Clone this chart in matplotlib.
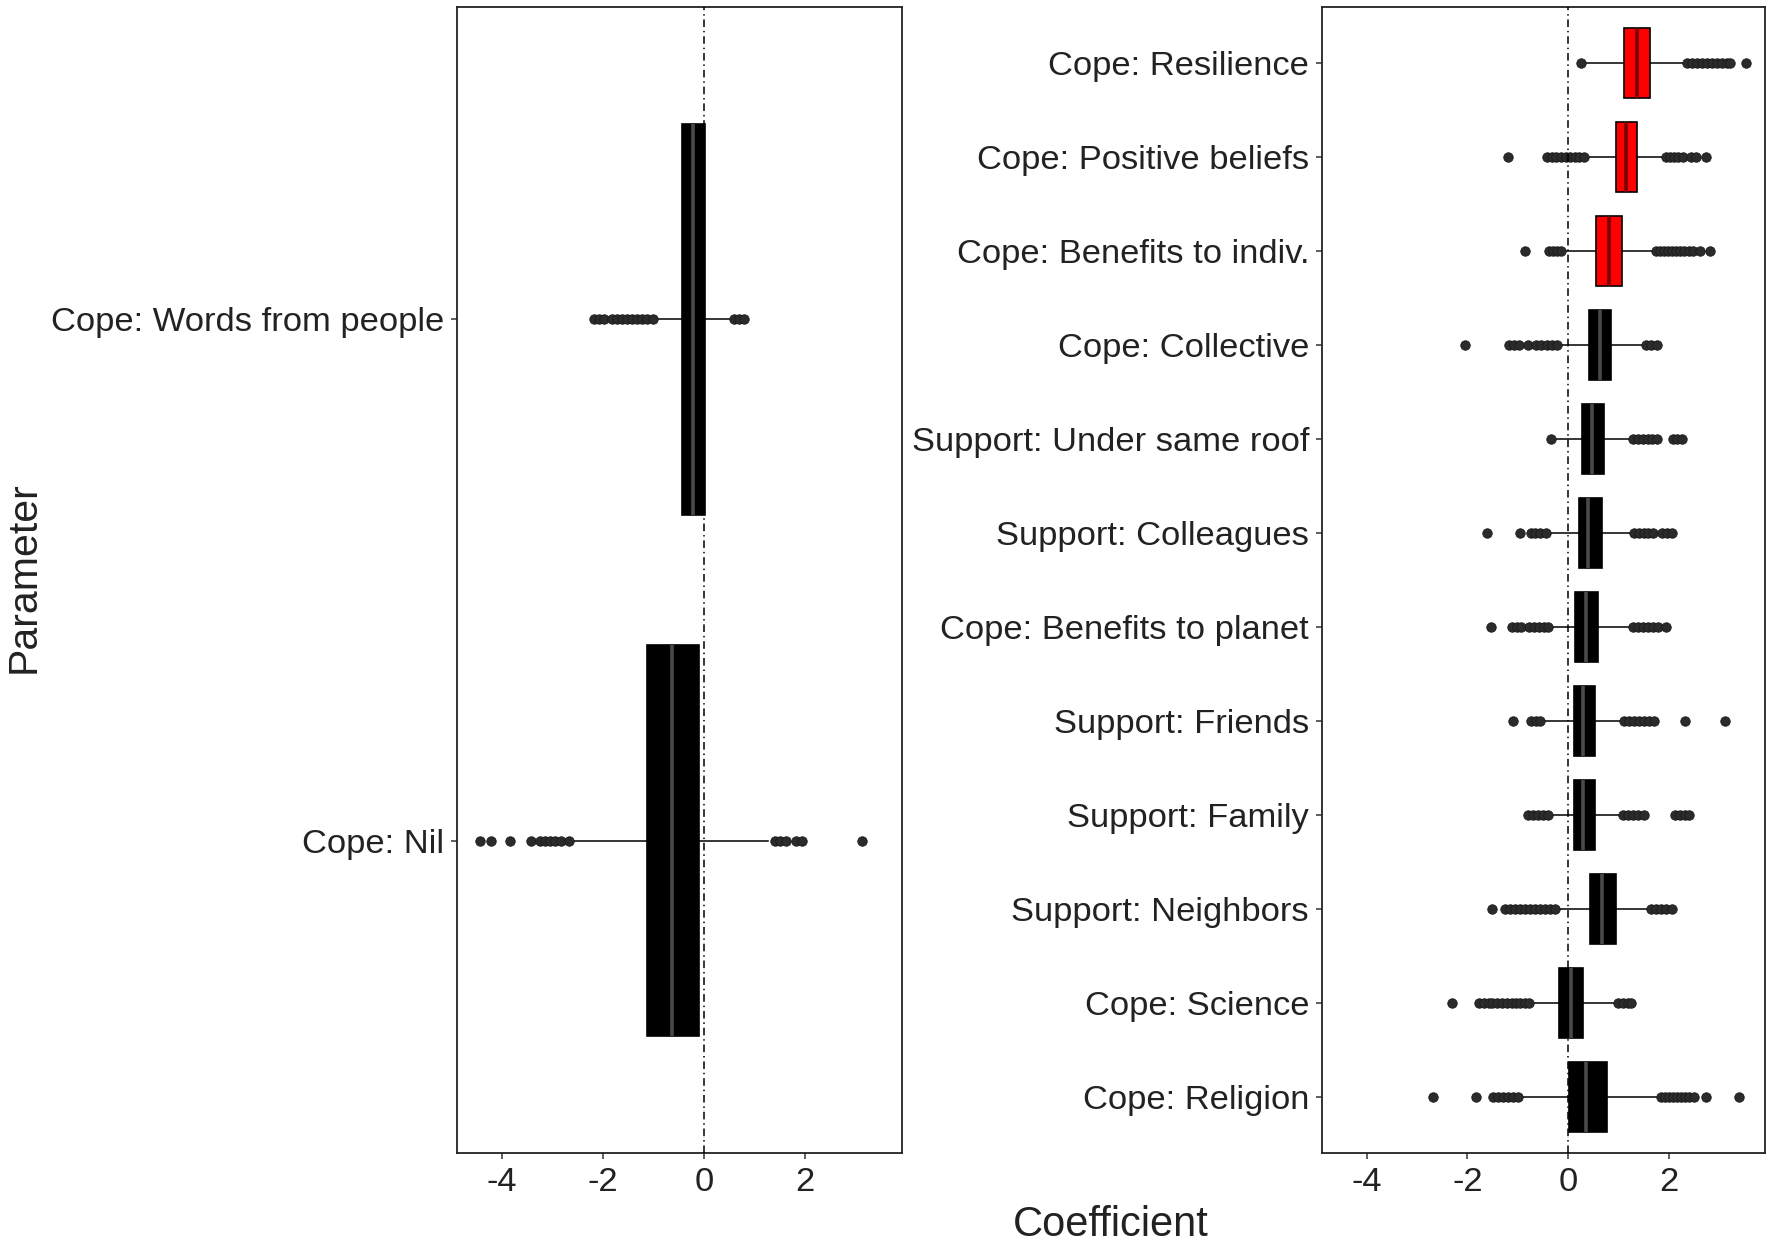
import matplotlib
matplotlib.use("Agg")
import matplotlib.pyplot as plt

plt.rcParams['font.family'] = ['Liberation Sans', 'DejaVu Sans']

# ---------------- data ----------------
cats_left = ["Cope: Words from people", "Cope: Nil"]
q1_left = [-0.445, -1.135]
med_left = [-0.22, -0.63]
q3_left = [0.01, -0.10]
wlo_left = [-0.97, -2.61]
whi_left = [0.56, 1.26]
out_left = [
    [-2.17, -2.07, -1.97, -1.82, -1.72, -1.62, -1.52, -1.42, -1.32, -1.22, -1.12, -1.02, 0.60, 0.70, 0.78],
    [-4.44, -4.21, -3.83, -3.42, -3.25, -3.15, -3.05, -2.95, -2.83, -2.67, 1.40, 1.50, 1.62, 1.82, 1.94, 3.13],
]
colors_left = ["black", "black"]

cats_right = ["Cope: Resilience", "Cope: Positive beliefs", "Cope: Benefits to indiv.",
              "Cope: Collective", "Support: Under same roof", "Support: Colleagues",
              "Cope: Benefits to planet", "Support: Friends", "Support: Family",
              "Support: Neighbors", "Cope: Science", "Cope: Religion"]
q1_right = [1.10, 0.94, 0.56, 0.42, 0.28, 0.21, 0.14, 0.11, 0.11, 0.44, -0.18, 0.02]
med_right = [1.36, 1.14, 0.80, 0.63, 0.48, 0.40, 0.36, 0.30, 0.30, 0.68, 0.05, 0.36]
q3_right = [1.63, 1.36, 1.06, 0.85, 0.71, 0.67, 0.60, 0.54, 0.54, 0.95, 0.30, 0.77]
wlo_right = [0.36, 0.36, -0.07, -0.17, -0.30, -0.43, -0.40, -0.48, -0.40, -0.23, -0.76, -0.99]
whi_right = [2.31, 1.92, 1.72, 1.52, 1.26, 1.29, 1.26, 1.09, 1.06, 1.62, 0.96, 1.82]
out_right = [
    [0.25, 2.36, 2.45, 2.55, 2.65, 2.75, 2.85, 2.95, 3.05, 3.15, 3.22, 3.53],
    [-1.20, -0.43, -0.33, -0.24, -0.15, -0.05, 0.04, 0.13, 0.22, 0.32,
     1.94, 2.02, 2.10, 2.18, 2.28, 2.43, 2.53, 2.73],
    [-0.85, -0.39, -0.30, -0.22, -0.14,
     1.74, 1.82, 1.90, 1.98, 2.06, 2.14, 2.22, 2.30, 2.40, 2.48, 2.61, 2.81],
    [-2.04, -1.17, -1.07, -0.98, -0.79, -0.63, -0.53, -0.43, -0.33, -0.22, 1.55, 1.65, 1.76],
    [-0.34, 1.28, 1.38, 1.48, 1.58, 1.66, 1.76, 2.08, 2.16, 2.26],
    [-1.61, -0.96, -0.74, -0.65, -0.55, -0.45, 1.31, 1.40, 1.50, 1.58, 1.69, 1.86, 1.96, 2.05],
    [-1.53, -1.11, -1.02, -0.94, -0.77, -0.68, -0.58, -0.48, -0.40,
     1.28, 1.38, 1.48, 1.58, 1.68, 1.78, 1.95],
    [-1.10, -0.73, -0.64, -0.56, 1.11, 1.20, 1.30, 1.40, 1.50, 1.60, 1.70, 2.32, 3.12],
    [-0.79, -0.70, -0.60, -0.50, -0.41, 1.08, 1.18, 1.28, 1.38, 1.50, 2.12, 2.22, 2.32, 2.40],
    [-1.52, -1.26, -1.16, -1.06, -0.96, -0.86, -0.76, -0.66, -0.56, -0.46, -0.36, -0.26,
     1.65, 1.75, 1.85, 1.95, 2.05],
    [-2.30, -1.77, -1.68, -1.58, -1.52, -1.42, -1.32, -1.22, -1.12, -1.04, -0.95, -0.86, -0.78,
     0.98, 1.08, 1.18, 1.25],
    [-2.68, -1.82, -1.49, -1.40, -1.30, -1.20, -1.10, -1.00,
     1.84, 1.92, 2.00, 2.08, 2.16, 2.24, 2.32, 2.40, 2.50, 2.73, 3.39],
]
colors_right = ["#ff0000", "#ff0000", "#ff0000"] + ["black"] * 9

xticks = [-4, -2, 0, 2]
xlim = (-4.88, 3.91)

TEXT = "#222222"
fig = plt.figure(figsize=(17.72, 12.44), dpi=100)
ax_l = fig.add_axes([0.2581, 0.0729, 0.2508, 0.9217])
ax_r = fig.add_axes([0.7462, 0.0729, 0.2500, 0.9217])


def draw(ax, cats, q1, med, q3, wlo, whi, outs, colors):
    n = len(cats)
    positions = list(range(n, 0, -1))
    for i in range(n):
        st = [dict(q1=q1[i], med=med[i], q3=q3[i], whislo=wlo[i], whishi=whi[i],
                   fliers=outs[i], label=cats[i])]
        medc = "#7a0000" if colors[i] != "black" else "#4a4a4a"
        ax.bxp(st, positions=[positions[i]], widths=0.75, orientation='horizontal',
               patch_artist=True, showcaps=False,
               boxprops=dict(facecolor=colors[i], edgecolor="black", linewidth=1.2),
               medianprops=dict(color=medc, linewidth=2.6),
               whiskerprops=dict(color="black", linewidth=1.1),
               flierprops=dict(marker="o", markersize=6.8, markerfacecolor="#2b2b2b",
                               markeredgecolor="#1a1a1a", markeredgewidth=0.6, linestyle="none"),
               zorder=3)
    ax.axvline(0, color="black", linewidth=1.1, linestyle=(0, (5, 2.5, 1, 2.5)), zorder=4)
    ax.set_ylim(0.4, n + 0.6)
    ax.set_yticks(positions)
    ax.set_yticklabels(cats)
    ax.set_xlim(*xlim)
    ax.set_xticks(xticks)
    ax.set_xticklabels([str(t) for t in xticks])
    ax.tick_params(axis="both", labelsize=24.8, colors="#333333", labelcolor=TEXT,
                   length=4.5, width=1.1, pad=5)
    for s in ax.spines.values():
        s.set_linewidth(1.3)
        s.set_color("#222222")


draw(ax_l, cats_left, q1_left, med_left, q3_left, wlo_left, whi_left, out_left, colors_left)
draw(ax_r, cats_right, q1_right, med_right, q3_right, wlo_right, whi_right, out_right, colors_right)

fig.text(0.0135, 0.536, "Parameter", rotation=90, ha="center", va="center",
         fontsize=29.5, color=TEXT)
fig.text(0.627, 0.0155, "Coefficient", ha="center", va="center", fontsize=30, color=TEXT)

fig.savefig("out.png", dpi=100, facecolor="white")
